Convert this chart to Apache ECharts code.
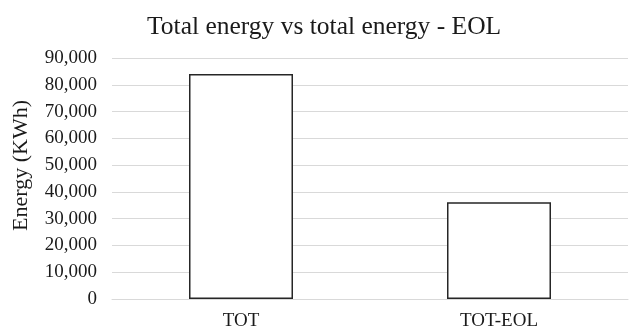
<!DOCTYPE html>
<html>
<head>
<meta charset="utf-8">
<script src="https://cdn.jsdelivr.net/npm/echarts@6/dist/echarts.min.js"></script>
<style>
  html, body { margin: 0; padding: 0; background: #fff; }
  #chart { width: 630px; height: 331px; }
</style>
</head>
<body>
<div id="chart"></div>
<script>
// data
var categories = ['TOT', 'TOT-EOL'];
var energy = [84000, 36100];
var yMin = 0, yMax = 90000, yStep = 10000;

var myChart = echarts.init(document.getElementById('chart'));

var serif = '"Liberation Serif", "DejaVu Serif", serif';

var option = {
    backgroundColor: '#fff',
    animation: false,
    title: {
        text: 'Total energy vs total energy - EOL',
        left: 142,  // title sits a bit right of centre in the original
        top: 9,
        textStyle: { fontFamily: serif, fontSize: 25.5, fontWeight: 'normal', color: '#1a1a1a' }
    },
    grid: { left: 112, right: 2, top: 58, bottom: 31, containLabel: false },
    xAxis: {
        type: 'category',
        data: categories,
        axisLine: { show: true, lineStyle: { color: '#d9d9d9', width: 1 } },
        axisTick: { show: false },
        axisLabel: { fontFamily: serif, fontSize: 19, color: '#1a1a1a', margin: 13 }
    },
    yAxis: {
        type: 'value',
        min: yMin,
        max: yMax,
        interval: yStep,
        name: 'Energy (KWh)',
        nameLocation: 'middle',
        nameGap: 80,
        nameTextStyle: { fontFamily: serif, fontSize: 22, color: '#1a1a1a', padding: [0, 0, 0, 26] },
        axisLine: { show: false },
        axisTick: { show: false },
        splitLine: { lineStyle: { color: '#d9d9d9', width: 1 } },
        axisLabel: {
            fontFamily: serif, fontSize: 19, color: '#1a1a1a', margin: 15,
            formatter: function (v) { return v.toLocaleString('en-US'); }
        }
    },
    series: [{
        type: 'bar',
        data: energy,
        barWidth: 104,
        itemStyle: { color: '#fff', borderColor: '#262626', borderWidth: 1.5 }
    }]
};

myChart.setOption(option);
</script>
</body>
</html>
